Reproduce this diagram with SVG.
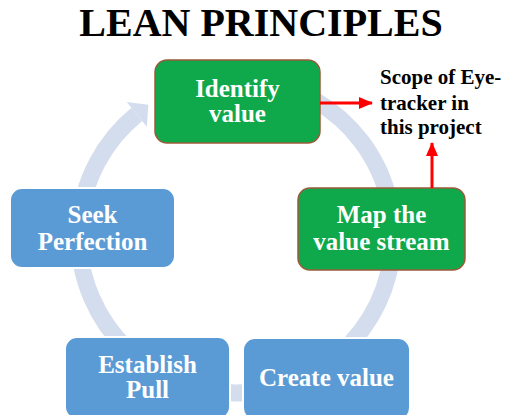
<svg xmlns="http://www.w3.org/2000/svg" width="511" height="415" viewBox="0 0 511 415">
<defs>
<style>
.title{font-family:"Liberation Serif","Times New Roman",serif;font-weight:bold;font-size:40px;fill:#000;text-anchor:middle}
.lbl{font-family:"Liberation Serif","Times New Roman",serif;font-weight:bold;font-size:25px;fill:#fff;text-anchor:middle}
.note{font-family:"Liberation Serif","Times New Roman",serif;font-weight:bold;font-size:21px;fill:#000}
.green{fill:#0fa84b;stroke:#9a5b3a;stroke-width:1.5}
.blue{fill:#5b9bd5;stroke:#fff;stroke-width:2}
.ring{fill:none;stroke:#d4ddee;stroke-width:17}
.red{stroke:#ff0000;stroke-width:3;fill:none}
</style>
<marker id="ah" markerWidth="14" markerHeight="12" refX="13" refY="6" orient="auto" markerUnits="userSpaceOnUse">
<path d="M0,0 L14,6 L0,12 Z" fill="#ff0000"/>
</marker>
</defs>
<rect width="511" height="415" fill="#fff"/>
<text class="title" x="261" y="36">LEAN PRINCIPLES</text>
<g id="cycle">
<path class="ring" d="M314.5,100 A157,157 0 1 1 136.8,114.3"/>
<polygon points="126.7,101.9 148.4,104.8 146.9,126.7" fill="#d4ddee"/>
</g>
<g id="identify-value">
<rect class="green" x="155" y="60" width="165" height="83" rx="12"/>
<text class="lbl" x="237.5" y="97">Identify</text>
<text class="lbl" x="237.5" y="122">value</text>
</g>
<g id="map-value-stream">
<rect class="green" x="298" y="188" width="167" height="82" rx="12"/>
<text class="lbl" x="381.5" y="223">Map the</text>
<text class="lbl" x="381.5" y="250">value stream</text>
</g>
<g id="create-value">
<rect class="blue" x="243" y="338" width="167" height="82" rx="12"/>
<text class="lbl" x="326.5" y="386">Create value</text>
</g>
<g id="establish-pull">
<rect class="blue" x="65" y="337" width="165" height="82" rx="12"/>
<text class="lbl" x="147.5" y="373">Establish</text>
<text class="lbl" x="147.5" y="398">Pull</text>
</g>
<g id="seek-perfection">
<rect class="blue" x="10" y="188" width="165" height="80" rx="12"/>
<text class="lbl" x="92.5" y="223">Seek</text>
<text class="lbl" x="92.5" y="250">Perfection</text>
</g>
<g id="scope-note">
<text class="note" x="380" y="84">Scope of Eye-</text>
<text class="note" x="380" y="110">tracker in</text>
<text class="note" x="380" y="134">this project</text>
</g>
<g id="connectors">
<line class="red" x1="320" y1="103" x2="372" y2="103" marker-end="url(#ah)"/>
<line class="red" x1="432" y1="188" x2="432" y2="143" marker-end="url(#ah)"/>
</g>
</svg>
